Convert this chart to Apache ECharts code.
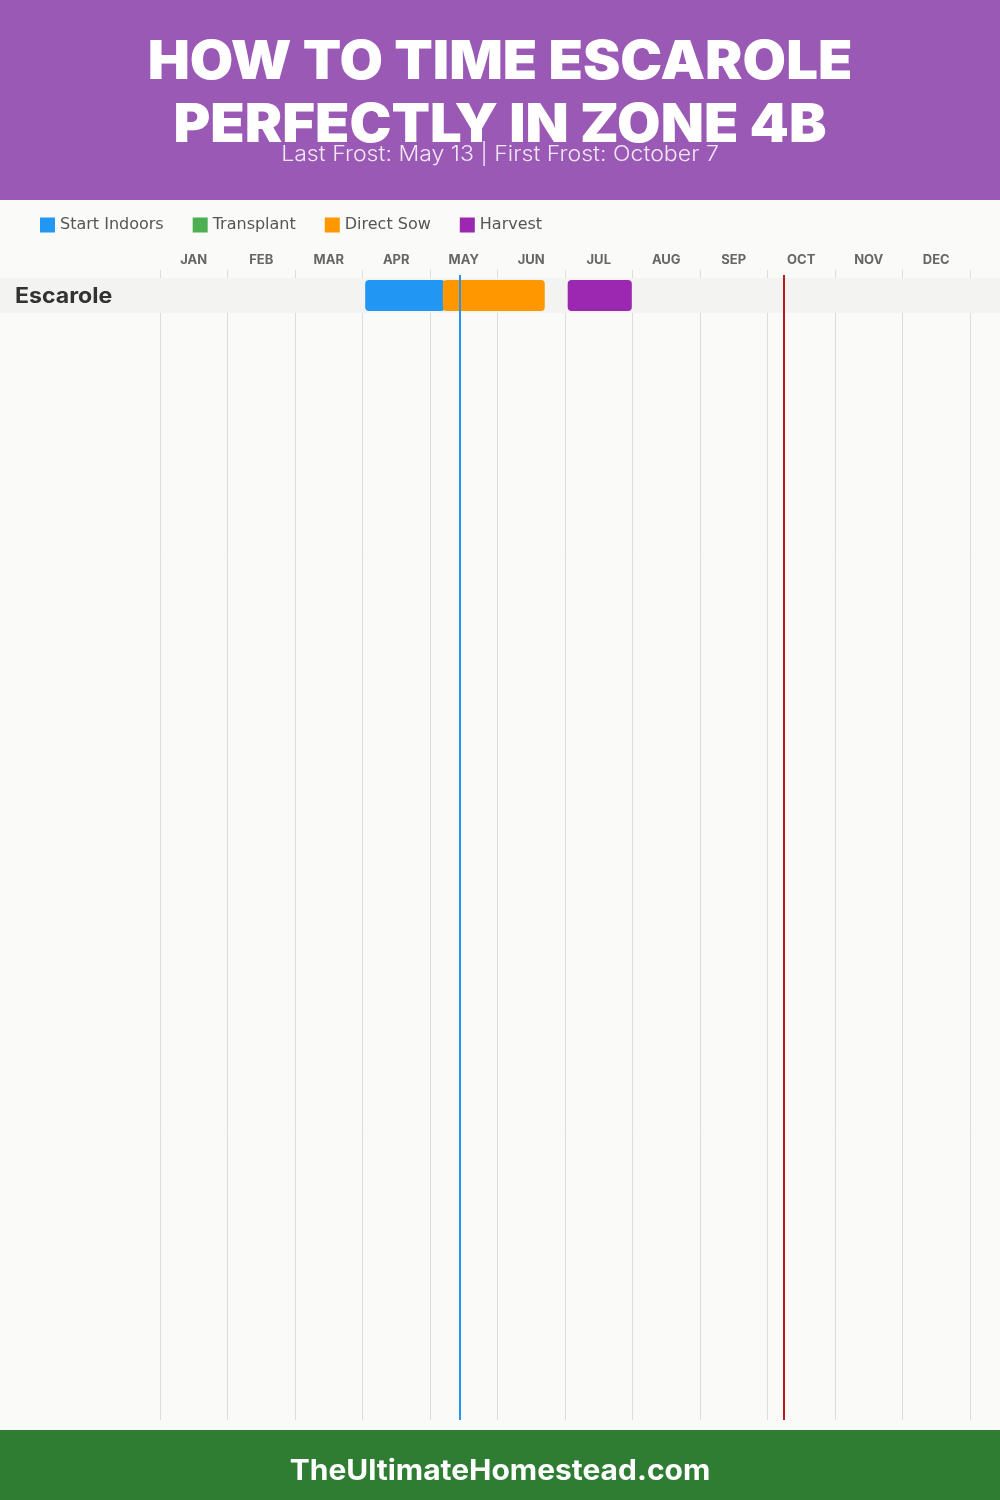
<!DOCTYPE html>
<html>
<head>
<meta charset="utf-8">
<script src="https://cdn.jsdelivr.net/npm/echarts@6/dist/echarts.min.js"></script>
<style>
  html, body { margin: 0; padding: 0; background: #fafaf8; }
  #chart { width: 1000px; height: 1500px; }
</style>
</head>
<body>
<div id="chart"></div>
<script>
// ---- data ----
const titleLines = ['HOW TO TIME ESCAROLE', 'PERFECTLY IN ZONE 4B'];
const subtitle = 'Last Frost: May 13 | First Frost: October 7';
const footerText = 'TheUltimateHomestead.com';
const months = ['JAN','FEB','MAR','APR','MAY','JUN','JUL','AUG','SEP','OCT','NOV','DEC'];
const crops = ['Escarole'];
// [start, end, rowIndex] in months from Jan 1 (0..12)
const startIndoors = [[3.04, 4.22, 0]];
const transplant = [];
const directSow = [[4.19, 5.70, 0]];
const harvest = [[6.04, 6.99, 0]];
const lastFrost = 4.44;   // May 13
const firstFrost = 9.24;  // Oct 7

const FONT = 'Inter, "Open Sans", sans-serif';
const colors = { start: '#2196f3', transplant: '#4caf50', sow: '#ff9800', harvest: '#9c27b0' };

const rowTopOffset = -8 / 35;
const rowsVisible = 1150 / 35;

function barRender(params, api) {
  const s = api.value(0), e = api.value(1), r = api.value(2);
  const p1 = api.coord([s, r]);
  const p2 = api.coord([e, r + 1]);
  return {
    type: 'rect',
    shape: { x: p1[0], y: p1[1] + 2, width: p2[0] - p1[0], height: p2[1] - p1[1] - 4, r: 4 },
    style: { fill: api.visual('color') }
  };
}

function rowRender(params, api) {
  const r = api.value(0);
  const p1 = api.coord([0, r]);
  const p2 = api.coord([0, r + 1]);
  const cs = params.coordSys;
  return {
    type: 'group',
    children: [
      { type: 'rect', shape: { x: 0, y: p1[1], width: api.getWidth(), height: p2[1] - p1[1] },
        style: { fill: '#f3f3f1' } },
      { type: 'text', x: cs.x - 145, y: (p1[1] + p2[1]) / 2 + 1.5, scaleX: 1.1,
        style: { text: crops[r], font: 'bold 21px ' + FONT, fill: '#333', verticalAlign: 'middle', align: 'left' } }
    ]
  };
}

const chart = echarts.init(document.getElementById('chart'), null, { renderer: 'canvas' });
const yMin = rowTopOffset;
const yMax = rowTopOffset + rowsVisible;
const lineStartY = rowTopOffset + 5 / 35;

chart.setOption({
  backgroundColor: '#fafaf8',
  animation: false,
  textStyle: { fontFamily: FONT },
  graphic: [
    { type: 'rect', left: 0, top: 0, shape: { width: 1000, height: 200 }, style: { fill: '#9b59b6' }, z: 0 },
    { type: 'text', x: 500, y: 63, scaleX: 1.06, style: { text: titleLines[0], font: '900 53px ' + FONT, fill: '#fff', align: 'center', verticalAlign: 'middle' }, z: 1 },
    { type: 'text', x: 500, y: 126, scaleX: 1.06, style: { text: titleLines[1], font: '900 53px ' + FONT, fill: '#fff', align: 'center', verticalAlign: 'middle' }, z: 1 },
    { type: 'text', x: 500, y: 155, scaleX: 1.1, style: { text: subtitle, font: '300 21px ' + FONT, fill: 'rgba(255,255,255,0.85)', align: 'center', verticalAlign: 'middle' }, z: 2 },
    { type: 'rect', left: 0, top: 1430, shape: { width: 1000, height: 70 }, style: { fill: '#2e7d32' }, z: 0 },
    { type: 'text', x: 500, y: 1472, scaleX: 1.07, style: { text: footerText, font: 'bold 28px ' + FONT, fill: '#fff', align: 'center', verticalAlign: 'middle' }, z: 1 }
  ],
  legend: {
    left: 40, top: 217, padding: 0,
    itemWidth: 15, itemHeight: 15, itemGap: 29,
    icon: 'rect',
    textStyle: { fontSize: 16, color: '#555', fontFamily: '"DejaVu Sans", sans-serif' },
    data: ['Start Indoors', 'Transplant', 'Direct Sow', 'Harvest']
  },
  grid: { left: 160, right: 30, top: 270, bottom: 80, containLabel: false },
  xAxis: [
    {
      type: 'category', position: 'top', data: months, boundaryGap: true,
      axisLine: { show: false }, axisTick: { show: false },
      axisLabel: { fontSize: 13, fontWeight: 'bold', color: '#666', margin: 3, fontFamily: FONT, interval: 0 },
      splitLine: { show: true, interval: 0, lineStyle: { color: '#dddddd', width: 1 } }
    },
    { type: 'value', min: 0, max: 12, show: false }
  ],
  yAxis: { type: 'value', inverse: true, min: yMin, max: yMax, show: false },
  series: [
    { name: 'rows', type: 'custom', xAxisIndex: 1, renderItem: rowRender, clip: false,
      data: crops.map((c, i) => [i]), silent: true, z: 1 },
    { name: 'Start Indoors', type: 'custom', xAxisIndex: 1, renderItem: barRender, itemStyle: { color: colors.start },
      encode: { x: [0, 1], y: 2 }, data: startIndoors, z: 2 },
    { name: 'Transplant', type: 'custom', xAxisIndex: 1, renderItem: barRender, itemStyle: { color: colors.transplant },
      encode: { x: [0, 1], y: 2 }, data: transplant, z: 2 },
    { name: 'Direct Sow', type: 'custom', xAxisIndex: 1, renderItem: barRender, itemStyle: { color: colors.sow },
      encode: { x: [0, 1], y: 2 }, data: directSow, z: 2 },
    { name: 'Harvest', type: 'custom', xAxisIndex: 1, renderItem: barRender, itemStyle: { color: colors.harvest },
      encode: { x: [0, 1], y: 2 }, data: harvest, z: 2,
      markLine: {
        silent: true, symbol: ['none', 'none'], label: { show: false },
        data: [
          [{ coord: [lastFrost, lineStartY], lineStyle: { color: '#2196f3', width: 2, type: 'solid' } }, { coord: [lastFrost, yMax] }],
          [{ coord: [firstFrost, lineStartY], lineStyle: { color: '#b71c1c', width: 2, type: 'solid' } }, { coord: [firstFrost, yMax] }]
        ]
      }
    }
  ]
});
</script>
</body>
</html>
